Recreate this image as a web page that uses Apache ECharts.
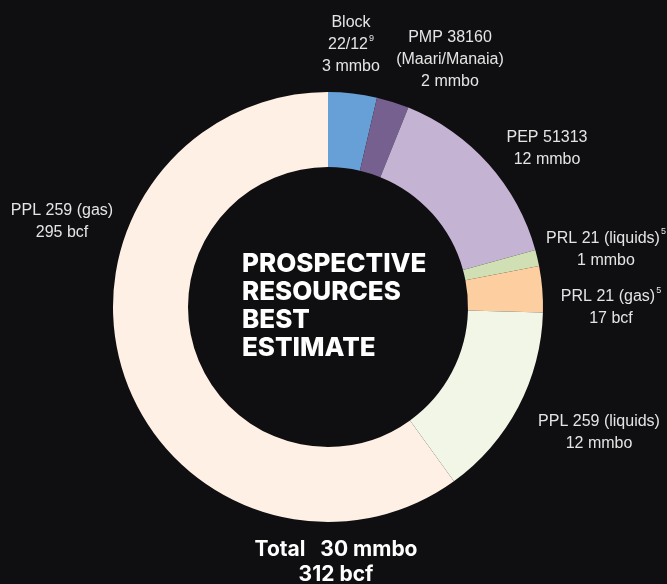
<!DOCTYPE html>
<html>
<head>
<meta charset="utf-8">
<script src="https://cdn.jsdelivr.net/npm/echarts@6/dist/echarts.min.js"></script>
<style>
  html, body { margin: 0; padding: 0; background: #0f0e11; }
  #chart { width: 667px; height: 584px; }
</style>
</head>
<body>
<div id="chart"></div>
<script>
// Prospective resources, best estimate, by licence
const titles = [
  ['Block', '22/12'],
  ['PMP 38160', '(Maari/Manaia)'],
  ['PEP 51313'],
  ['PRL 21 (liquids)'],
  ['PRL 21 (gas)'],
  ['PPL 259 (liquids)'],
  ['PPL 259 (gas)']
];
const notes = ['9', '', '', '5', '5', '', ''];
const values = [3, 2, 12, 1, 17, 12, 295];
const units = ['mmbo', 'mmbo', 'mmbo', 'mmbo', 'bcf', 'mmbo', 'bcf'];
const colors = ['#67a0d6', '#75608f', '#c4b3d3', '#d0e0b4', '#fdcfa0', '#f1f6e6', '#fef0e4'];
const totalLiquids = '30 mmbo';
const totalGas = '312 bcf';
const centreTitle = ['PROSPECTIVE', 'RESOURCES', 'BEST', 'ESTIMATE'];

// gas volumes are put on an oil-equivalent basis (6 bcf per mmboe) for slice sizes
const BCF_PER_MMBOE = 6;
const toBoe = (v, u) => (u === 'bcf' ? v / BCF_PER_MMBOE : v);

// label anchor points (centre of each label block)
const labelPos = [
  [351, 45], [450, 60], [547, 149], [606, 249.5], [611, 308], [599, 432.5], [62, 222]
];

const chart = echarts.init(document.getElementById('chart'));

const data = values.map((v, i) => ({
  name: titles[i].join(' '),
  value: toBoe(v, units[i]),
  itemStyle: { color: colors[i] },
  label: {
    formatter: () => {
      const t = titles[i].slice();
      const last = t.length - 1;
      t[last] = t[last] + (notes[i] ? '{sup|' + notes[i] + '}' : '');
      return t.join('\n') + '\n' + v + ' ' + units[i];
    }
  }
}));

chart.setOption({
  backgroundColor: '#0f0e11',
  animation: false,
  series: [{
    type: 'pie',
    center: [328, 307],
    radius: [140, 215],
    startAngle: 90,
    clockwise: true,
    avoidLabelOverlap: false,
    data: data,
    label: {
      show: true,
      position: 'outside',
      color: '#e4e4e4',
      fontFamily: 'Liberation Sans Narrow, Arial Narrow, sans-serif',
      fontSize: 16,
      lineHeight: 22,
      align: 'center',
      rich: {
        sup: { fontSize: 9, verticalAlign: 'top', lineHeight: 22, color: '#e4e4e4', padding: [0, 0, 0, 1] }
      }
    },
    labelLine: { show: false },
    labelLayout: (p) => ({
      x: labelPos[p.dataIndex][0],
      y: labelPos[p.dataIndex][1],
      align: 'center',
      verticalAlign: 'middle'
    }),
    emphasis: { disabled: true }
  }],
  graphic: [
    {
      type: 'text',
      left: 242,
      top: 250,
      style: {
        text: centreTitle.join('\n'),
        fill: '#ffffff',
        font: '800 26px Inter, sans-serif',
        lineHeight: 28
      }
    },
    {
      type: 'text',
      x: 336,
      y: 537,
      style: {
        text: 'Total   ' + totalLiquids + '\n' + totalGas,
        fill: '#ffffff',
        font: 'bold 21px Inter, sans-serif',
        lineHeight: 25,
        align: 'center',
        verticalAlign: 'top'
      }
    }
  ]
});
</script>
</body>
</html>
